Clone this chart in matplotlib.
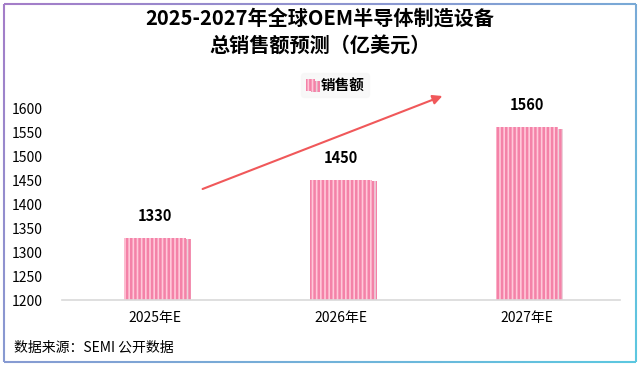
import matplotlib
matplotlib.use('Agg')
import matplotlib.pyplot as plt
import matplotlib.patheffects as pe
from matplotlib.collections import LineCollection
import numpy as np

plt.rcParams['font.family'] = ['Noto Sans CJK SC', 'DejaVu Sans']
plt.rcParams['hatch.linewidth'] = 1.8

# data
years = ['2025年E', '2026年E', '2027年E']
sales = [1330, 1450, 1560]
series_name = '销售额'
title = '2025-2027年全球OEM半导体制造设备\n总销售额预测（亿美元）'
source = '数据来源：SEMI 公开数据'

W, H = 640, 367
fig = plt.figure(figsize=(W / 100, H / 100), dpi=100)
ax = fig.add_axes([62 / W, 1 - 300 / H, 558 / W, 192 / H])

x = np.arange(len(years))
bars = ax.bar(x, sales, width=0.33, color='#FFC8D9', edgecolor='#F482A8',
              hatch='||||', linewidth=0, label=series_name)
for b in bars:
    b.set_path_effects([pe.SimplePatchShadow(offset=(4, -1), shadow_rgbFace='#D9A7B8', alpha=0.5),
                        pe.Normal()])

for xi, v in zip(x, sales):
    ax.annotate(f'{v}', (xi, v), xytext=(0, 10), textcoords='offset points',
                ha='center', va='bottom', fontsize=10.5, fontweight='bold')

ax.set_xlim(-0.5, 2.5)
ax.set_ylim(1200, 1600)
ax.set_yticks(range(1200, 1601, 50))
ax.set_xticks(x)
ax.set_xticklabels(years, fontsize=10)
ax.tick_params(axis='both', length=0, labelsize=10)
ax.tick_params(axis='y', pad=14)
ax.tick_params(axis='x', pad=8)
for s in ['top', 'right', 'left']:
    ax.spines[s].set_visible(False)
ax.spines['bottom'].set_color('#D9D9D9')
ax.spines['bottom'].set_linewidth(1.2)

leg = fig.legend(handles=[bars], labels=[series_name], loc='center',
                 bbox_to_anchor=(335 / W, 1 - 85 / H),
                 frameon=True, fontsize=10.5, handlelength=0.6, handleheight=0.8,
                 handletextpad=0.4, borderpad=0.3)
leg.get_frame().set_facecolor('#F7F7F7')
leg.get_frame().set_edgecolor('#F7F7F7')
for t in leg.get_texts():
    t.set_fontweight('bold')

fig.text(0.5, 1 - 32 / H, title, ha='center', va='center', fontsize=14.5,
         fontweight='bold', linespacing=1.35)

fig.text(14 / W, 1 - 348 / H, source, ha='left', va='center', fontsize=10)

# trend arrow
fig.add_artist(matplotlib.patches.FancyArrowPatch(
    (200 / W, 1 - 190 / H), (445 / W, 1 - 95 / H), transform=fig.transFigure,
    arrowstyle='-|>', mutation_scale=14, color='#F0585A', linewidth=1.5))

# gradient border
n = 200
pts = []
corners = [(4, 4), (636, 4), (636, 362), (4, 362), (4, 4)]
for (x0, y0), (x1, y1) in zip(corners[:-1], corners[1:]):
    t = np.linspace(0, 1, n)
    pts.append(np.column_stack([x0 + (x1 - x0) * t, y0 + (y1 - y0) * t]))
pts = np.vstack(pts)
pts_fig = np.column_stack([pts[:, 0] / W, 1 - pts[:, 1] / H])
segs = np.stack([pts_fig[:-1], pts_fig[1:]], axis=1)
c0 = np.array(matplotlib.colors.to_rgb('#A57CC8'))
c1 = np.array(matplotlib.colors.to_rgb('#5BC8E0'))
frac = np.clip((pts[:-1, 0] / W * 0.6 + pts[:-1, 1] / H * 0.4), 0, 1)
cols = c0[None, :] * (1 - frac[:, None]) + c1[None, :] * frac[:, None]
lc = LineCollection(segs, colors=cols, linewidths=1.5, transform=fig.transFigure)
fig.add_artist(lc)

fig.savefig('out.png', dpi=100)
